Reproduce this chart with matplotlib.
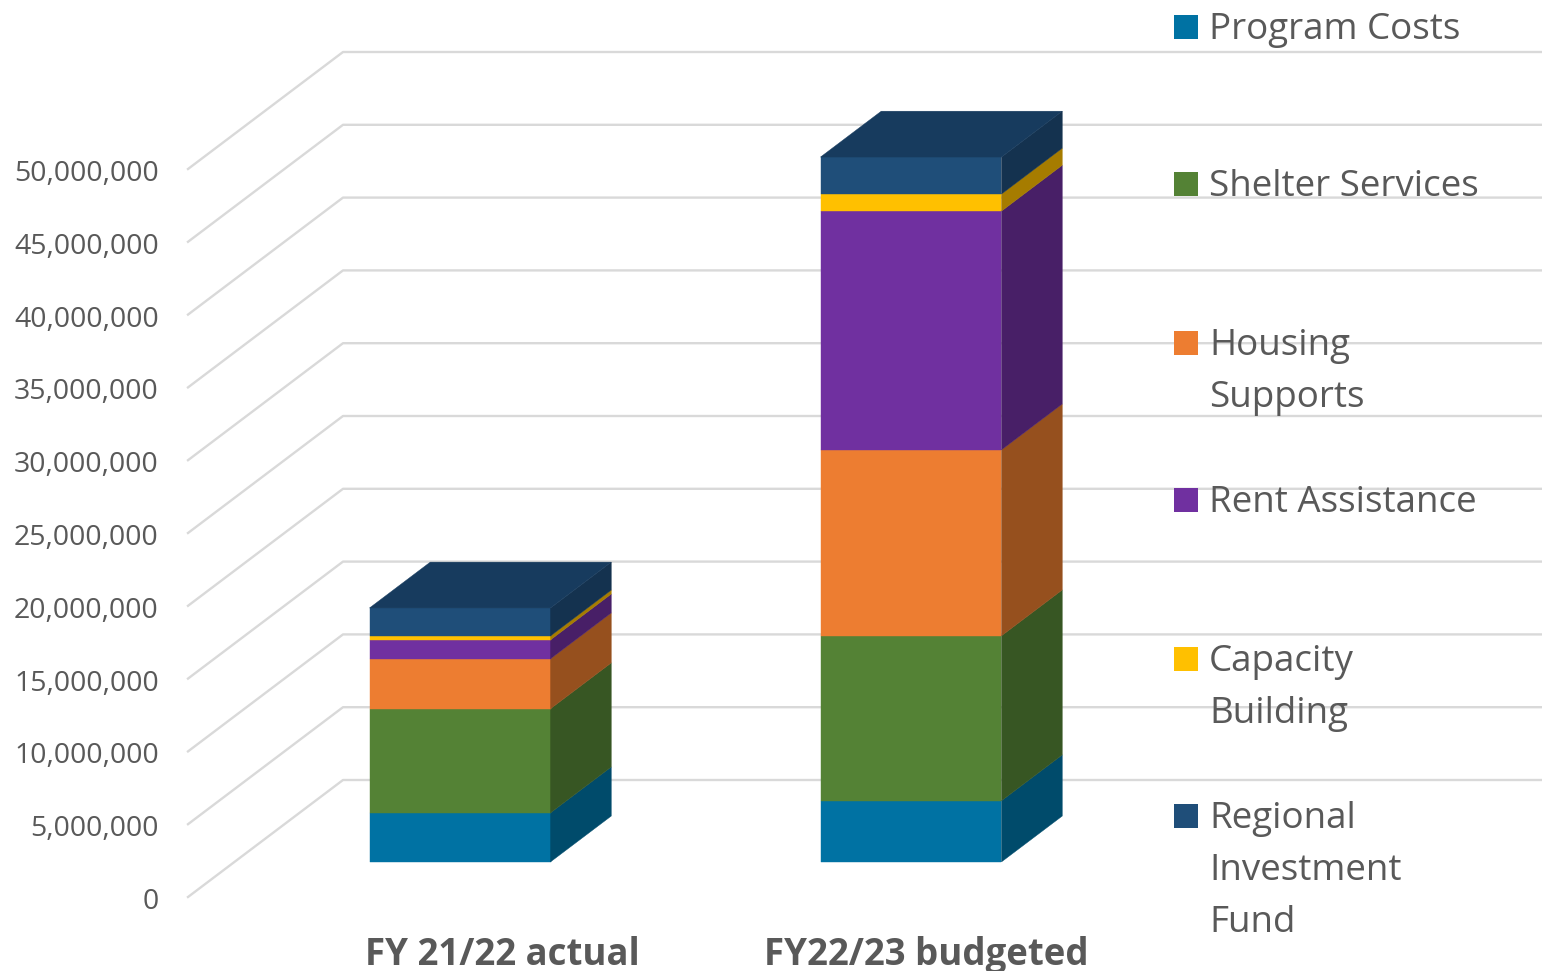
import numpy as np
import matplotlib
matplotlib.use("Agg")
import matplotlib.pyplot as plt
from matplotlib.patches import Polygon, Rectangle

plt.rcParams["font.family"] = ["Open Sans", "DejaVu Sans"]

# values
categories = ["FY 21/22 actual", "FY22/23 budgeted"]
program_costs = [3.37e6, 4.2e6]
shelter_services = [7.15e6, 11.33e6]
housing_supports = [3.43e6, 12.77e6]
rent_assistance = [1.3e6, 16.4e6]
capacity_building = [0.27e6, 1.17e6]
regional_fund = [1.92e6, 2.54e6]
y_ticks = [0, 5000000, 10000000, 15000000, 20000000, 25000000,
           30000000, 35000000, 40000000, 45000000, 50000000]
legend_labels = ["Program Costs", "Shelter Services", "Housing\nSupports",
                 "Rent Assistance", "Capacity\nBuilding",
                 "Regional\nInvestment\nFund"]

series = [program_costs, shelter_services, housing_supports,
          rent_assistance, capacity_building, regional_fund]
front_cols = ["#0072A3", "#548235", "#ED7D31", "#7030A0", "#FFC000", "#1F4E79"]
side_cols = ["#004B6B", "#375623", "#96501E", "#481F67", "#A67C00", "#14324F"]
top_col = "#173B5E"

W, H = 1542, 971
PX_X = 451.0          # pixels per category
PX_Y = 14.56e-6       # pixels per unit of value
DEPTH_X = 155 / PX_X  # how far the back wall is shifted from the front edge
DEPTH_Y = 117 / PX_Y
BAR_W = 181 / PX_X
D0, D1 = 0.30, 0.692  # bar position inside the depth


def proj(x, v, d):
    return (x + d * DEPTH_X, v + d * DEPTH_Y)


def px_text(x, y, s, **kw):
    fig.text(x / W, 1 - y / H, s, **kw)


fig = plt.figure(figsize=(W / 100, H / 100), dpi=100)
ax = fig.add_axes([0, 0, 1, 1])
ax.set_xlim(-413.5 / PX_X, (W - 413.5) / PX_X)
ax.set_ylim((897 - H) / PX_Y, 897 / PX_Y)
ax.axis("off")

# wall + floor grid
x_left = -0.5
x_right = ax.get_xlim()[1]
for t in y_ticks:
    p0 = proj(x_left, t, 0)
    p1 = proj(x_left, t, 1)
    ax.plot([p0[0], p1[0], x_right], [p0[1], p1[1], p1[1]],
            color="#D9D9D9", lw=1.7, zorder=1, solid_joinstyle="round")
    ax.annotate(f"{t:,}", xy=p0, xytext=(-21, -3.6), textcoords="offset points",
                ha="right", va="center", fontsize=20.5, color="#595959")

# stacked 3d bars
for i in range(len(categories)):
    left = i - BAR_W / 2
    right = i + BAR_W / 2
    bottom = 0
    for s, fc, sc in zip(series, front_cols, side_cols):
        top = bottom + s[i]
        front = [proj(left, bottom, D0), proj(right, bottom, D0),
                 proj(right, top, D0), proj(left, top, D0)]
        side = [proj(right, bottom, D0), proj(right, bottom, D1),
                proj(right, top, D1), proj(right, top, D0)]
        ax.add_patch(Polygon(front, fc=fc, ec=fc, lw=0.3, zorder=3))
        ax.add_patch(Polygon(side, fc=sc, ec=sc, lw=0.3, zorder=3))
        bottom = top
    lid = [proj(left, bottom, D0), proj(right, bottom, D0),
           proj(right, bottom, D1), proj(left, bottom, D1)]
    ax.add_patch(Polygon(lid, fc=top_col, ec=top_col, lw=0.3, zorder=3))

# category labels
for name, xp in zip(categories, [502, 926]):
    px_text(xp, 955, name, ha="center", va="center", fontsize=26.4,
            fontweight="bold", color="#595959")

# legend, on the right
for label, col, yp in zip(legend_labels, front_cols, [27, 184, 343, 500, 659, 816]):
    fig.add_artist(Rectangle((1174 / W, 1 - (yp + 12) / H), 24 / W, 24 / H,
                             transform=fig.transFigure, fc=col, ec="none"))
    px_text(1209, yp - 15, label, ha="left", va="top", fontsize=26.5,
            color="#595959", linespacing=1.6)

fig.savefig("out.png", dpi=100)
